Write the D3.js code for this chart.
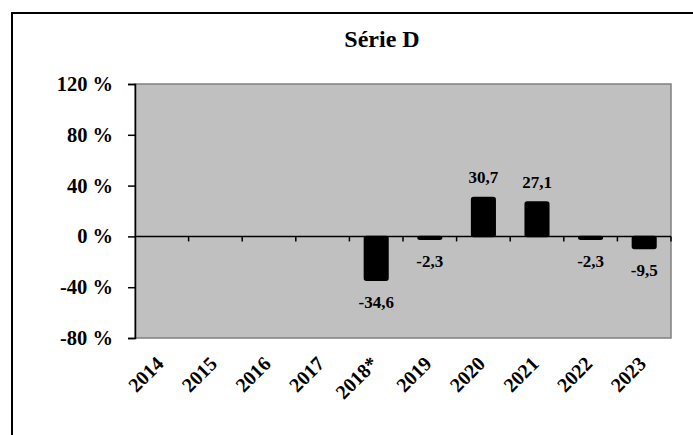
<!DOCTYPE html>
<html>
<head>
<meta charset="utf-8">
<script src="https://cdn.jsdelivr.net/npm/d3@7"></script>
<style>
  body { margin: 0; background: #fff; }
  text { font-family: "Liberation Serif", "Times New Roman", serif; font-weight: bold; fill: #000; }
</style>
</head>
<body>
<div id="chart"></div>
<script>
const years = ["2014", "2015", "2016", "2017", "2018*", "2019", "2020", "2021", "2022", "2023"];
const values = [null, null, null, null, -34.6, -2.3, 30.7, 27.1, -2.3, -9.5];
const yTicks = [120, 80, 40, 0, -40, -80];

const width = 693, height = 435;
const plot = { left: 135, top: 84, right: 671, bottom: 338 };

const svg = d3.select("#chart").append("svg")
  .attr("width", width)
  .attr("height", height);

// outer frame, runs off the right and bottom edges
svg.append("rect")
  .attr("x", 12).attr("y", 13)
  .attr("width", 700).attr("height", 440)
  .attr("fill", "none")
  .attr("stroke", "#000")
  .attr("stroke-width", 2);

svg.append("text")
  .attr("x", 382).attr("y", 47)
  .attr("text-anchor", "middle")
  .style("font-size", "24px")
  .text("Série D");

const x = d3.scaleBand().domain(years).range([plot.left, plot.right]).padding(0);
const y = d3.scaleLinear().domain([-80, 120]).range([plot.bottom, plot.top]);

// plot area
svg.append("rect")
  .attr("x", plot.left).attr("y", plot.top)
  .attr("width", plot.right - plot.left).attr("height", plot.bottom - plot.top)
  .attr("fill", "#c0c0c0")
  .attr("stroke", "#808080")
  .attr("stroke-width", 1.5);

// y axis
const yAxis = svg.append("g")
  .attr("transform", `translate(${plot.left},0)`)
  .call(d3.axisLeft(y).tickValues(yTicks).tickSize(7).tickPadding(15).tickFormat(d => d + " %"));
yAxis.select(".domain").attr("stroke", "#000").attr("stroke-width", 1.5);
yAxis.selectAll(".tick line").attr("stroke", "#000").attr("stroke-width", 1.5);
yAxis.selectAll("text").style("font-size", "20.5px").attr("fill", "#000");

// zero line with category ticks
const xAxis = svg.append("g")
  .attr("transform", `translate(0,${y(0)})`);
xAxis.append("line")
  .attr("x1", plot.left).attr("x2", plot.right)
  .attr("stroke", "#000").attr("stroke-width", 1.5);
xAxis.selectAll(".cat-tick")
  .data(years.slice(1))
  .enter().append("line")
  .attr("x1", d => x(d)).attr("x2", d => x(d))
  .attr("y1", 0).attr("y2", 5)
  .attr("stroke", "#000").attr("stroke-width", 1.5);
xAxis.append("line")
  .attr("x1", plot.right).attr("x2", plot.right)
  .attr("y1", 0).attr("y2", 5)
  .attr("stroke", "#000").attr("stroke-width", 1.5);

const data = years.map((yr, i) => ({ year: yr, value: values[i] }));
const barW = x.bandwidth() * 0.44;

svg.selectAll(".bar")
  .data(data.filter(d => d.value !== null))
  .enter().append("rect")
  .attr("x", d => x(d.year) + x.bandwidth() / 2 - barW / 2)
  .attr("y", d => y(Math.max(0, d.value)))
  .attr("width", barW)
  .attr("height", d => Math.abs(y(d.value) - y(0)))
  .attr("rx", 2)
  .attr("fill", "#000")
  .attr("stroke", "#000")
  .attr("stroke-width", 1.5)
  .attr("stroke-linejoin", "round");

svg.selectAll(".val")
  .data(data.filter(d => d.value !== null))
  .enter().append("text")
  .attr("x", d => x(d.year) + x.bandwidth() / 2)
  .attr("y", d => d.value >= 0 ? y(d.value) - 14 : y(d.value) + 28)
  .attr("text-anchor", "middle")
  .style("font-size", "17px")
  .text(d => d.value.toFixed(1).replace(".", ","));

// rotated year labels
svg.selectAll(".year")
  .data(years)
  .enter().append("text")
  .attr("transform", d => `translate(${x(d) + x.bandwidth() / 2 + 3},${plot.bottom + 27}) rotate(-45)`)
  .attr("text-anchor", "end")
  .style("font-size", "20px")
  .text(d => d);
</script>
</body>
</html>
